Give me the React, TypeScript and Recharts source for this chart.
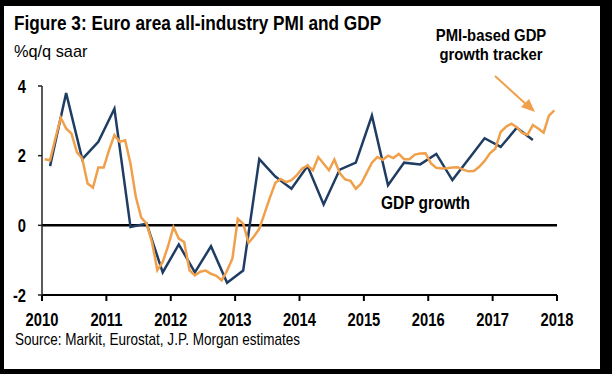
import { LineChart, Line, XAxis, YAxis, ReferenceLine } from 'recharts';

// GDP growth, %q/q saar, quarterly 2010Q1 - 2017Q3
const gdpGrowth = [
  1.7, 3.8, 1.9, 2.4, 3.35, -0.05, 0.05, -1.35, -0.55, -1.35, -0.6, -1.65, -1.3, 1.9, 1.4, 1.05,
  1.7, 0.6, 1.6, 1.8, 3.15, 1.15, 1.8, 1.75, 2.05, 1.3, 1.9, 2.5, 2.25, 2.8, 2.45,
];

// PMI-based GDP growth tracker, monthly Jan 2010 - Dec 2017
const pmiTracker = [
  1.9, 1.87, 2.5, 3.09, 2.78, 2.63, 2.1, 1.92, 1.2, 1.08, 1.66, 1.66,
  2.16, 2.59, 2.4, 2.44, 1.77, 0.81, 0.22, 0.05, -0.48, -1.29, -1.05, -0.6,
  -0.05, -0.38, -0.48, -1.29, -1.44, -1.33, -1.3, -1.39, -1.45, -1.58, -1.3, -0.95,
  0.19, 0.05, -0.5, -0.32, -0.1, 0.35, 0.8, 1.22, 1.33, 1.24, 1.3, 1.44,
  1.63, 1.72, 1.58, 1.96, 1.77, 1.58, 1.89, 1.5, 1.32, 1.28, 1.05, 1.2,
  1.5, 1.8, 1.96, 1.88, 2.0, 1.93, 2.05, 1.9, 1.9, 2.03, 2.06, 2.07,
  1.78, 1.65, 1.63, 1.64, 1.66, 1.67, 1.6, 1.55, 1.56, 1.68, 1.85, 2.07,
  2.2, 2.68, 2.83, 2.92, 2.82, 2.65, 2.6, 2.88, 2.78, 2.66, 3.15, 3.3,
];

const yearTicks = [2010, 2011, 2012, 2013, 2014, 2015, 2016, 2017, 2018];
const valueTicks = [-2, 0, 2, 4];

// quarter -> middle month of the quarter, month -> middle of month
const gdpData = gdpGrowth.map((v, i) => ({ x: 2010 + (i * 3 + 1.5) / 12, v }));
const pmiData = pmiTracker.map((v, i) => ({ x: 2010 + (i + 0.5) / 12, v }));

const FONT = '"Liberation Sans", Arial, sans-serif';
const ORANGE = '#f0a04b';
const NAVY = '#1f3d63';

// Arial squeezed horizontally to look like Arial Narrow
function Narrow({ x, y, size, bold, anchor = 'start', sx = 0.82, children }: any) {
  return (
    <text
      transform={`translate(${x},${y}) scale(${sx},1)`}
      textAnchor={anchor}
      fontFamily={FONT}
      fontSize={size}
      fontWeight={bold ? 700 : 400}
      fill="#000"
    >
      {children}
    </text>
  );
}

function XTick(props: any) {
  const { x, y, payload } = props;
  return (
    <Narrow x={x} y={y + 13} size={18} bold anchor="middle">
      {payload.value}
    </Narrow>
  );
}

function YTick(props: any) {
  const { x, y, payload } = props;
  return (
    <Narrow x={x} y={y + 6.5} size={18} bold anchor="end">
      {payload.value}
    </Narrow>
  );
}

export default function App() {
  return (
    <div style={{ position: 'absolute', left: 0, top: 0, width: 612, height: 374, background: '#000' }}>
      <div style={{ position: 'absolute', left: 4, top: 6, width: 596, height: 363, background: '#fff' }} />
      <div style={{ position: 'absolute', left: 0, top: 0 }}>
        <LineChart width={612} height={374} margin={{ top: 86, right: 55, left: 12, bottom: 49 }}>
          <XAxis
            type="number"
            dataKey="x"
            domain={[2010, 2018]}
            ticks={yearTicks}
            height={30}
            tickSize={6}
            tickMargin={12}
            stroke="#000"
            strokeWidth={2}
            tick={<XTick />}
          />
          <YAxis
            type="number"
            domain={[-2, 4]}
            ticks={valueTicks}
            width={30}
            tickSize={4}
            tickMargin={12}
            stroke="#222"
            strokeWidth={1.5}
            tick={<YTick />}
          />
          <ReferenceLine y={0} stroke="#000" strokeWidth={2.5} />
          <Line data={gdpData} dataKey="v" type="linear" stroke={NAVY} strokeWidth={2.5} dot={false} isAnimationActive={false} />
          <Line data={pmiData} dataKey="v" type="linear" stroke={ORANGE} strokeWidth={2.5} dot={false} isAnimationActive={false} />
        </LineChart>
      </div>
      <svg style={{ position: 'absolute', left: 0, top: 0 }} width={612} height={374}>
        <Narrow x={14} y={30} size={21} bold>
          Figure 3: Euro area all-industry PMI and GDP
        </Narrow>
        <Narrow x={14} y={57} size={17} sx={0.96}>
          %q/q saar
        </Narrow>
        <Narrow x={491} y={41} size={16.5} bold anchor="middle" sx={0.9}>
          PMI-based GDP
        </Narrow>
        <Narrow x={491} y={60} size={16.5} bold anchor="middle" sx={0.9}>
          growth tracker
        </Narrow>
        <Narrow x={381} y={209} size={18} bold sx={0.86}>
          GDP growth
        </Narrow>
        <Narrow x={15} y={345} size={16} sx={0.845}>
          Source: Markit, Eurostat, J.P. Morgan estimates
        </Narrow>
        <line x1={495} y1={76} x2={528} y2={106} stroke={ORANGE} strokeWidth={2} />
        <polygon points="535,112 521,107 529,99" fill={ORANGE} />
      </svg>
    </div>
  );
}
